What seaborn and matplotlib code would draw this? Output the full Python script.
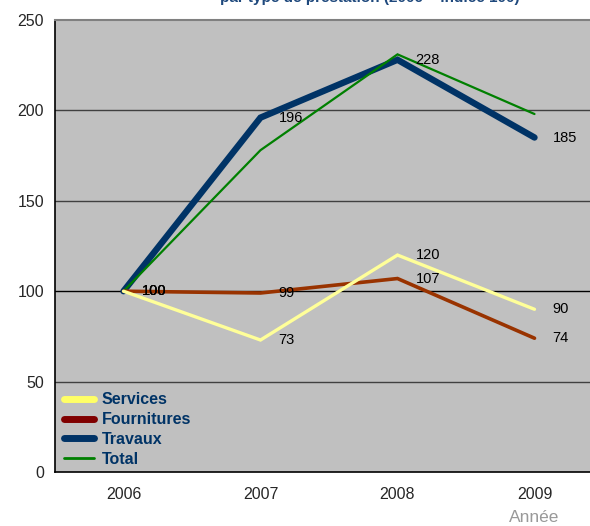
import matplotlib
matplotlib.use("Agg")
import matplotlib.pyplot as plt
import seaborn as sns
import pandas as pd
from matplotlib.ticker import FixedLocator, NullFormatter, FixedFormatter

# Index values (2006 = 100) by type of service
years = ["2006", "2007", "2008", "2009"]
services = [100, 73, 120, 90]
fournitures = [100, 99, 107, 74]
travaux = [100, 196, 228, 185]
total = [100, 178, 231, 198]

series_names = ["Services", "Fournitures", "Travaux", "Total"]
series_values = [services, fournitures, travaux, total]
colors = {"Services": "#FFFF99", "Fournitures": "#993300",
          "Travaux": "#003366", "Total": "#008000"}
widths = {"Services": 2.4, "Fournitures": 2.6, "Travaux": 4.6, "Total": 1.6}
legend_colors = {"Services": "#FFFF66", "Fournitures": "#800000",
                 "Travaux": "#003366", "Total": "#008000"}
labelled = {"Services": True, "Fournitures": True, "Travaux": True, "Total": False}

rows = []
for name, vals in zip(series_names, series_values):
    for i, v in enumerate(vals):
        rows.append({"pos": i, "year": years[i], "serie": name, "indice": v})
df = pd.DataFrame(rows)

sns.set_theme(style="white")
plt.rcParams["font.family"] = ["Liberation Sans", "DejaVu Sans"]

fig = plt.figure(figsize=(5.9, 5.26), dpi=100)
ax = fig.add_axes([55 / 590, (526 - 472) / 526, 548 / 590, 452 / 526])
ax.set_facecolor("#C0C0C0")

# Draw order: Travaux and Total first, then the thinner series on top
for name in ["Travaux", "Total", "Fournitures", "Services"]:
    sub = df[df["serie"] == name]
    sns.lineplot(data=sub, x="pos", y="indice", ax=ax, color=colors[name],
                 linewidth=widths[name], solid_capstyle="round",
                 solid_joinstyle="miter", legend=False, zorder=3)

# Value labels next to each point
for name, vals in zip(series_names, series_values):
    if not labelled[name]:
        continue
    for i, v in enumerate(vals):
        ax.annotate(str(v), (i, v), xytext=(13, 0), textcoords="offset points",
                    ha="left", va="center", fontsize=10.5, color="#000000",
                    zorder=5)

ax.set_xlim(-0.5, 3.5)
ax.set_ylim(0, 250)
ax.set_yticks([0, 50, 100, 150, 200, 250])
ax.set_yticklabels(["0", "50", "100", "150", "200", "250"], fontsize=11.5)
for y in [50, 150, 200]:
    ax.axhline(y, color="#404040", linewidth=1.0, zorder=1)
ax.axhline(100, color="#000000", linewidth=1.0, zorder=1)

ax.xaxis.set_major_locator(FixedLocator([-0.5, 0.5, 1.5, 2.5, 3.5]))
ax.xaxis.set_major_formatter(NullFormatter())
ax.xaxis.set_minor_locator(FixedLocator([0, 1, 2, 3]))
ax.xaxis.set_minor_formatter(FixedFormatter(years))
ax.tick_params(axis="x", which="major", direction="out", length=5, width=1,
               color="#000000")
ax.tick_params(axis="x", which="minor", length=0, pad=11, labelsize=11.5)
ax.tick_params(axis="y", direction="out", length=5, width=1, color="#000000",
               pad=3)
ax.set_xlabel("")
ax.set_ylabel("")

for s in ["left", "bottom"]:
    ax.spines[s].set_color("#000000")
    ax.spines[s].set_linewidth(1.2)
ax.spines["top"].set_color("#808080")
ax.spines["top"].set_linewidth(1.5)
ax.spines["right"].set_visible(False)

# Legend
handles = [plt.Line2D([0], [0], color=legend_colors[n],
                      linewidth=(5 if n != "Total" else 2),
                      solid_capstyle="round") for n in series_names]
leg = ax.legend(handles, series_names, loc="lower left",
                bbox_to_anchor=(0.007, 0.0), frameon=False, fontsize=11.5,
                handlelength=1.9, handletextpad=0.45, labelspacing=0.3,
                borderaxespad=0.0, borderpad=0.33)
for t in leg.get_texts():
    t.set_color("#003366")
    t.set_fontweight("bold")

fig.text(534 / 590, 1 - 518 / 526, "Année", ha="center", va="center",
         fontsize=12.5, color="#999999")
fig.text(370 / 590, 1 - 2 / 526, "par type de prestation (2006 = indice 100)",
         ha="center", va="baseline", fontsize=11, fontweight="bold",
         color="#1F497D")

fig.savefig("out.png", dpi=100)
